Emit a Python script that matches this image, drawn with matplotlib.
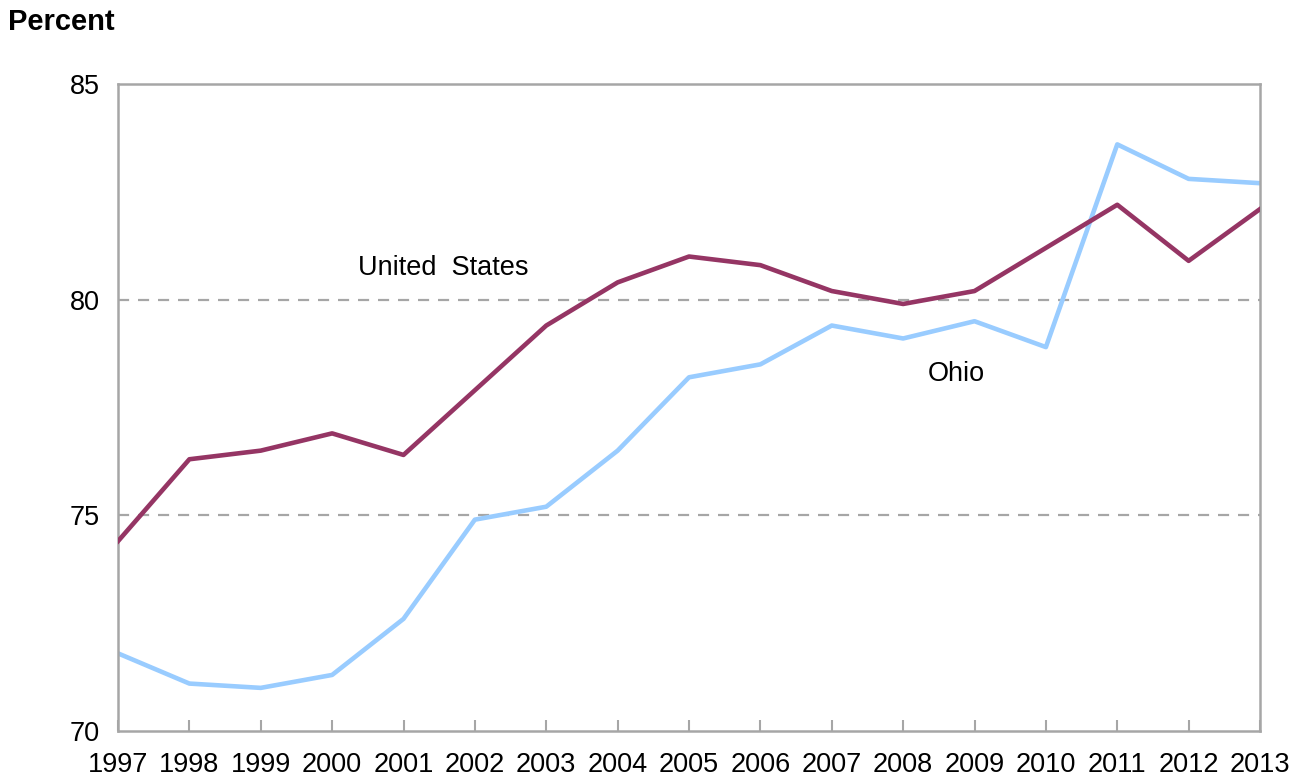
import matplotlib
matplotlib.use('Agg')
import matplotlib.pyplot as plt

years = list(range(1997, 2014))
us = [74.4, 76.3, 76.5, 76.9, 76.4, 77.9, 79.4, 80.4, 81.0, 80.8,
      80.2, 79.9, 80.2, 81.2, 82.2, 80.9, 82.1]
ohio = [71.8, 71.1, 71.0, 71.3, 72.6, 74.9, 75.2, 76.5, 78.2, 78.5,
        79.4, 79.1, 79.5, 78.9, 83.6, 82.8, 82.7]
yticks = [70, 75, 80, 85]

plt.rcParams['font.family'] = ['Liberation Sans', 'DejaVu Sans']

fig = plt.figure(figsize=(13.01, 7.79), dpi=100)
ax = fig.add_axes([0.0907, 0.0616, 0.8778, 0.8306])

for y in [75, 80]:
    ax.axhline(y, color='#a6a6a6', lw=1.6, ls=(0, (5, 4)), zorder=1)

ax.plot(years, us, color='#953564', lw=3.3, zorder=3)
ax.plot(years, ohio, color='#99ccff', lw=3.3, zorder=2)

ax.set_xlim(1997, 2013)
ax.set_ylim(70, 85)
ax.set_xticks(years)
ax.set_xticklabels([str(y) for y in years], fontsize=19.5)
ax.set_yticks(yticks)
ax.set_yticklabels([str(t) for t in yticks], fontsize=19.5)
ax.tick_params(axis='x', direction='in', length=8, width=1.5, color='#a6a6a6', pad=15)
ax.tick_params(axis='y', length=0, pad=13)
for s in ax.spines.values():
    s.set_color('#a6a6a6')
    s.set_linewidth(1.8)

ax.text(2001.55, 80.73, 'United  States', fontsize=19.5, ha='center', va='center')
ax.text(2008.75, 78.28, 'Ohio', fontsize=19.5, ha='center', va='center')
fig.text(0.006, 0.972, 'Percent', fontsize=21, fontweight='bold', ha='left', va='center')

fig.savefig('out.png', dpi=100)
